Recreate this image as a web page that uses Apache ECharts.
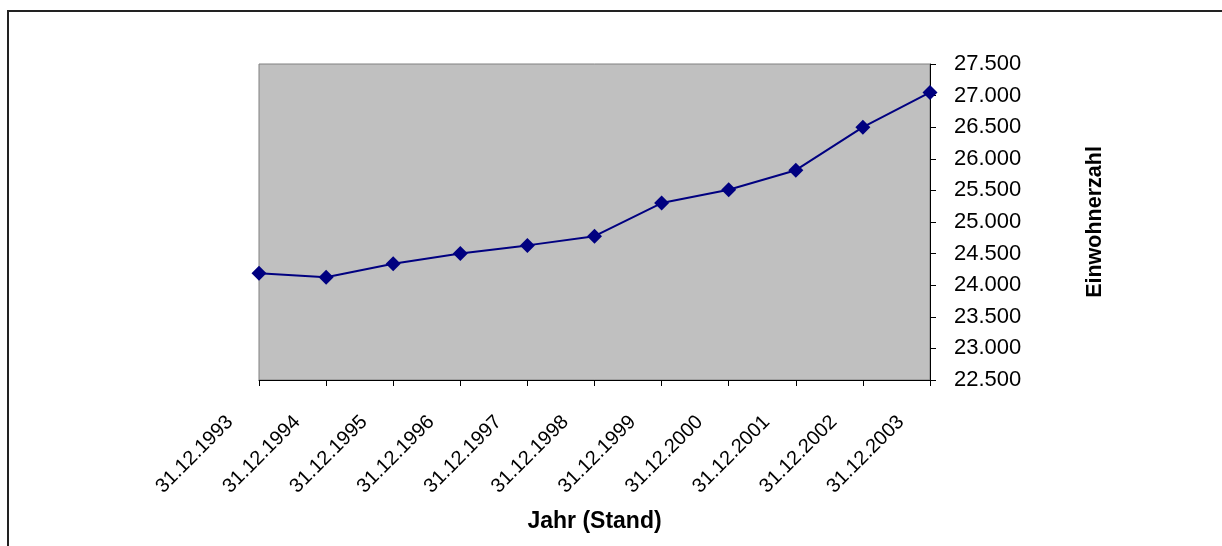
<!DOCTYPE html>
<html>
<head>
<meta charset="utf-8">
<script src="https://cdn.jsdelivr.net/npm/echarts@6/dist/echarts.min.js"></script>
<style>
  html, body { margin: 0; padding: 0; background: #ffffff; }
  #chart { width: 1222px; height: 546px; }
</style>
</head>
<body>
<div id="chart"></div>
<script>
// Categories (x axis)
const categories = ['31.12.1993', '31.12.1994', '31.12.1995', '31.12.1996', '31.12.1997', '31.12.1998', '31.12.1999', '31.12.2000', '31.12.2001', '31.12.2002', '31.12.2003'];
// Einwohnerzahl values
const einwohner = [24190, 24125, 24340, 24500, 24630, 24775, 25300, 25510, 25820, 26500, 27050];
// Axis ranges
const yMin = 22500;
const yMax = 27500;
const yStep = 500;
const xAxisTitle = 'Jahr (Stand)';
const yAxisTitle = 'Einwohnerzahl';

function deFormat(v) {
  return (v / 1000).toFixed(3);
}

const chart = echarts.init(document.getElementById('chart'), null, { renderer: 'canvas' });
chart.setOption({
  animation: false,
  backgroundColor: '#ffffff',
  textStyle: { fontFamily: '"Liberation Sans", Arial, sans-serif' },
  graphic: [{
    type: 'rect',
    silent: true,
    shape: { x: 8, y: 11, width: 1400, height: 700 },
    style: { fill: 'none', stroke: '#222222', lineWidth: 2 }
  }],
  grid: {
    left: 259,
    right: 292,
    top: 64,
    bottom: 166,
    containLabel: false,
    outerBoundsMode: 'none',
    show: true,
    backgroundColor: '#C0C0C0',
    borderColor: '#808080',
    borderWidth: 1
  },
  xAxis: {
    type: 'category',
    data: categories,
    boundaryGap: false,
    name: xAxisTitle,
    nameLocation: 'middle',
    nameGap: 130,
    nameTextStyle: { fontSize: 23, fontWeight: 'bold', color: '#000', fontFamily: '"Liberation Sans", Arial, sans-serif' },
    axisLine: { show: true, lineStyle: { color: '#000', width: 1 } },
    axisTick: { show: true, inside: false, length: 6, interval: 0, lineStyle: { color: '#000' } },
    axisLabel: {
      interval: 0,
      rotate: 45,
      margin: 10,
      padding: [0, 41, 0, 0],
      fontSize: 20,
      color: '#000',
      fontFamily: '"Liberation Sans", Arial, sans-serif'
    },
    splitLine: { show: false }
  },
  yAxis: {
    type: 'value',
    position: 'right',
    min: yMin,
    max: yMax,
    interval: yStep,
    name: yAxisTitle,
    nameLocation: 'middle',
    nameRotate: 90,
    nameGap: 154,
    nameTextStyle: { fontSize: 21.5, fontWeight: 'bold', color: '#000', fontFamily: '"Liberation Sans", Arial, sans-serif' },
    axisLine: { show: true, lineStyle: { color: '#000', width: 1 } },
    axisTick: { show: true, inside: false, length: 6, lineStyle: { color: '#000' } },
    axisLabel: {
      margin: 24,
      fontSize: 22,
      color: '#000',
      formatter: deFormat,
      fontFamily: '"Liberation Sans", Arial, sans-serif'
    },
    splitLine: { show: false }
  },
  series: [{
    type: 'line',
    data: einwohner,
    symbol: 'diamond',
    symbolSize: 15,
    showAllSymbol: true,
    lineStyle: { color: '#000080', width: 2 },
    itemStyle: { color: '#000080' },
    z: 3
  }]
});
</script>
</body>
</html>
